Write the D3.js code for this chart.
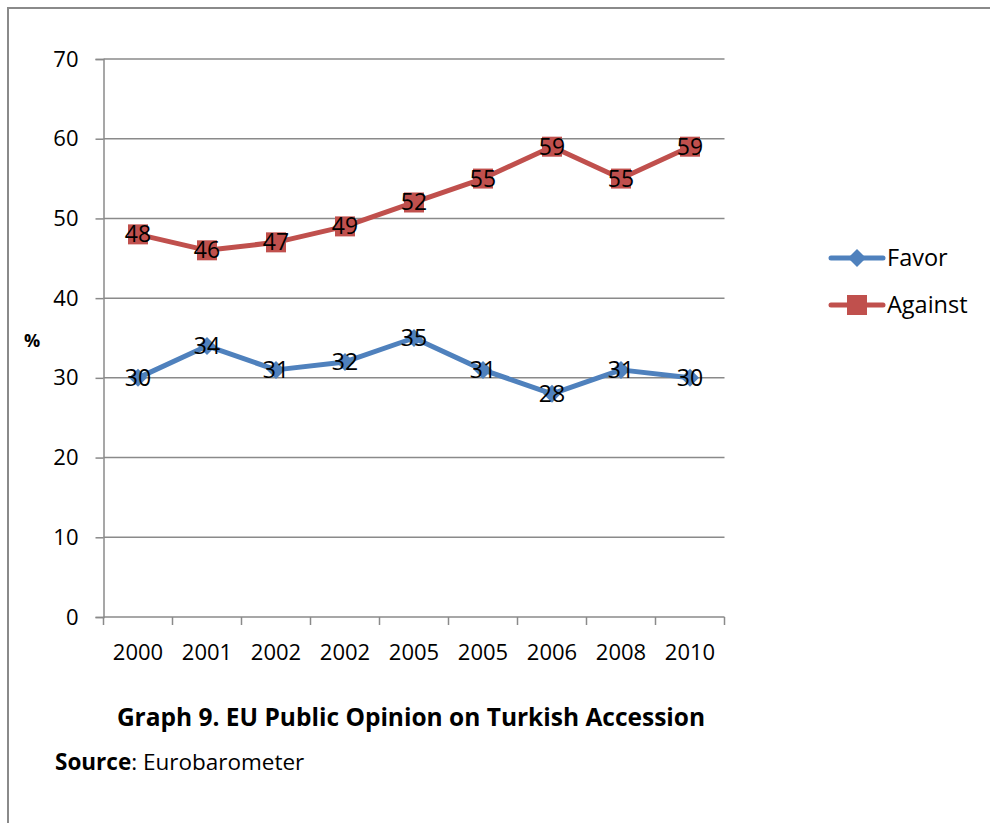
<!DOCTYPE html>
<html><head><meta charset="utf-8">
<script src="https://cdn.jsdelivr.net/npm/d3@7"></script>
<style>body{margin:0;background:#fff}svg{display:block}text{font-family:"Open Sans",sans-serif}</style>
</head><body>
<svg id="c" width="990" height="823"></svg>
<script>
const categories = ["2000","2001","2002","2002","2005","2005","2006","2008","2010"];
const favor = [30,34,31,32,35,31,28,31,30];
const against = [48,46,47,49,52,55,59,55,59];
const yTicks = [0,10,20,30,40,50,60,70];
const seriesNames = ["Favor","Against"];

const svg = d3.select("#c");
// outer frame
svg.append("path").attr("d","M8,823 L8,8 L990,8").attr("fill","none").attr("stroke","#8a8a8a").attr("stroke-width",2);

const L=103.5, R=724.5, T=59, B=617;
const x = d3.scaleBand().domain(d3.range(categories.length)).range([L,R]);
const y = d3.scaleLinear().domain([0,70]).range([B,T]);

// grid
svg.append("g").selectAll("line").data(yTicks.filter(d=>d>0)).join("line")
  .attr("x1",L).attr("x2",R).attr("y1",d=>y(d)).attr("y2",d=>y(d))
  .attr("stroke","#8a8a8a").attr("stroke-width",1.5);

// y axis
const ya = svg.append("g").attr("transform",`translate(${L},0)`)
  .call(d3.axisLeft(y).tickValues(yTicks).tickSize(8).tickPadding(17));
ya.select(".domain").attr("stroke","#8a8a8a").attr("stroke-width",1.5);
ya.selectAll(".tick line").attr("stroke","#8a8a8a").attr("stroke-width",1.5);
ya.selectAll("text").attr("font-size",22).attr("fill","#000").attr("font-family","Open Sans");

// x axis
const xa = svg.append("g").attr("transform",`translate(0,${B})`)
  .call(d3.axisBottom(x).tickFormat(i=>categories[i]).tickSize(0).tickPadding(27));
xa.select(".domain").attr("stroke","#8a8a8a").attr("stroke-width",1.5).attr("d",`M${L},0H${R}`);
xa.selectAll("text").attr("font-size",22).attr("fill","#000").attr("font-family","Open Sans");
xa.selectAll(".tick line").remove();
const edges = d3.range(categories.length+1).map(i=> i<categories.length ? x(i) : x(i-1)+x.bandwidth());
svg.append("g").selectAll("line").data(edges).join("line")
  .attr("x1",d=>d).attr("x2",d=>d).attr("y1",B).attr("y2",B+8)
  .attr("stroke","#8a8a8a").attr("stroke-width",1.5);

const cx = i => x(i)+x.bandwidth()/2;
const line = d3.line().x((d,i)=>cx(i)).y(d=>y(d));

const colors = {Favor:"#4F81BD", Against:"#C0504D"};
// lines
svg.append("path").datum(favor).attr("d",line).attr("fill","none").attr("stroke",colors.Favor).attr("stroke-width",5).attr("stroke-linejoin","round");
svg.append("path").datum(against).attr("d",line).attr("fill","none").attr("stroke",colors.Against).attr("stroke-width",5).attr("stroke-linejoin","round");

// markers
const diamond = s => `M0,${-s}L${s},0L0,${s}L${-s},0Z`;
svg.append("g").selectAll("path").data(favor).join("path")
  .attr("d",diamond(9)).attr("transform",(d,i)=>`translate(${cx(i)},${y(d)})`).attr("fill",colors.Favor);
svg.append("g").selectAll("rect").data(against).join("rect")
  .attr("x",(d,i)=>cx(i)-10).attr("y",d=>y(d)-10).attr("width",20).attr("height",20).attr("fill",colors.Against);

// labels
[favor,against].forEach(arr=>{
  svg.append("g").selectAll("text").data(arr).join("text")
    .attr("x",(d,i)=>cx(i)).attr("y",d=>y(d)+8).attr("text-anchor","middle")
    .attr("font-size",23).attr("fill","#000").text(d=>d);
});

// y label
svg.append("text").attr("x",32).attr("y",347).attr("text-anchor","middle").attr("font-size",18).attr("font-weight","bold").text("%");

// legend
seriesNames.forEach((n,k)=>{
  const ly = 258 + k*47;
  const g = svg.append("g");
  g.append("line").attr("x1",831).attr("x2",883).attr("y1",ly).attr("y2",ly).attr("stroke",colors[n]).attr("stroke-width",5).attr("stroke-linecap","round");
  if(n==="Favor") g.append("path").attr("d",diamond(9)).attr("transform",`translate(857,${ly})`).attr("fill",colors[n]);
  else g.append("rect").attr("x",847).attr("y",ly-10).attr("width",20).attr("height",20).attr("fill",colors[n]);
  g.append("text").attr("x",887).attr("y",ly+8).attr("font-size",23.5).text(n);
});

// title
svg.append("text").attr("x",411).attr("y",726).attr("text-anchor","middle").attr("font-size",24.5).attr("font-weight","bold").text("Graph 9. EU Public Opinion on Turkish Accession");
const src = svg.append("text").attr("x",55).attr("y",770).attr("font-size",22.5);
src.append("tspan").attr("font-weight","bold").text("Source");
src.append("tspan").text(": Eurobarometer");
</script>
</body></html>
